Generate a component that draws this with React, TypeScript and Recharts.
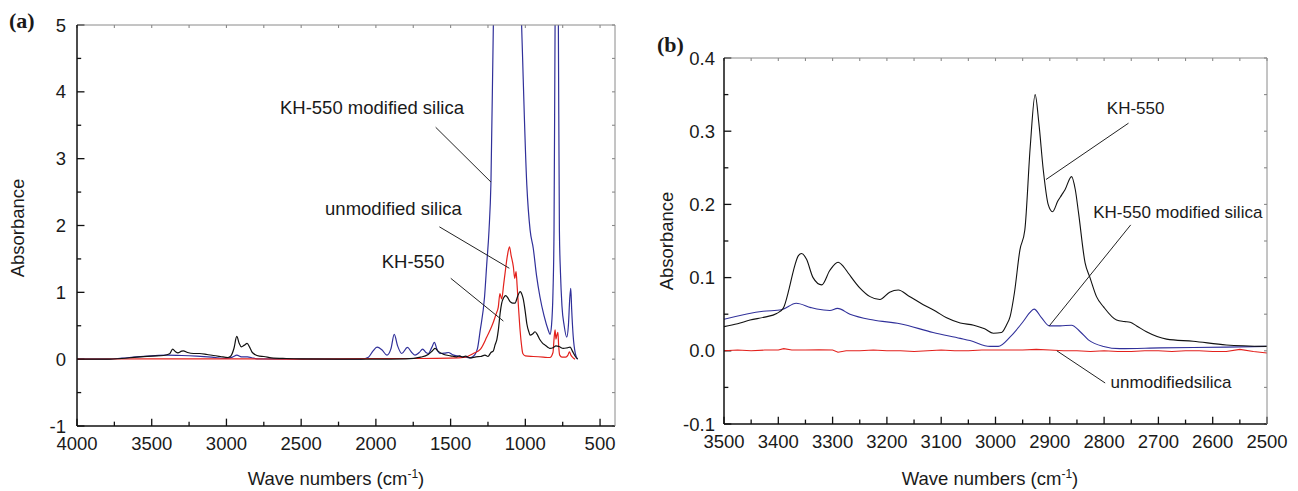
import { LineChart, Line, XAxis, YAxis, ReferenceLine, ReferenceDot } from "recharts"

// ─── Style constants ──────────────────────────────────────────────────────────

const FONT = "Arial, 'Liberation Sans', Helvetica, sans-serif"
const SERIF = "'Liberation Serif', 'Times New Roman', serif"
const INK = "#1a1a1a"
const BLUE = "#30309a"
const RED = "#e3211c"
const BLACK = "#111111"
const FRAME = "#8a8a8a"

// ─── Data: panel (a), full spectra ────────────────────────────────────────────

const A_KH550_WN = [4000, 3800, 3700, 3600, 3500, 3420, 3380, 3360, 3340, 3325, 3300, 3289, 3260, 3220, 3180, 3130, 3088, 3040, 2990, 2970, 2950, 2931, 2915, 2900, 2880, 2862, 2845, 2830, 2810, 2780, 2750, 2700, 2600, 2500, 2000, 1800, 1700, 1650, 1620, 1604, 1585, 1545, 1500, 1460, 1440, 1420, 1400, 1370, 1330, 1300, 1270, 1250, 1230, 1215, 1203, 1190, 1181, 1168, 1158, 1145, 1131, 1118, 1102, 1085, 1069, 1050, 1035, 1020, 1013, 1000, 990, 975, 968, 950, 935, 918, 902, 885, 868, 850, 835, 815, 795, 775, 746, 720, 700, 685, 665, 650]
const A_KH550_ABS = [0, 0, 0.01, 0.03, 0.045, 0.055, 0.08, 0.15, 0.11, 0.095, 0.12, 0.125, 0.1, 0.085, 0.085, 0.07, 0.055, 0.04, 0.025, 0.05, 0.16, 0.34, 0.24, 0.185, 0.21, 0.235, 0.18, 0.11, 0.07, 0.045, 0.04, 0.02, 0.01, 0.005, 0, 0.005, 0.03, 0.07, 0.13, 0.16, 0.12, 0.07, 0.05, 0.035, 0.05, 0.03, 0.045, 0.02, 0.035, 0.04, 0.06, 0.04, 0.1, 0.12, 0.21, 0.3, 0.43, 0.7, 0.84, 0.92, 0.95, 0.92, 0.86, 0.84, 0.84, 0.95, 1.01, 0.95, 0.89, 0.7, 0.53, 0.4, 0.36, 0.38, 0.41, 0.36, 0.29, 0.24, 0.21, 0.18, 0.16, 0.17, 0.2, 0.19, 0.16, 0.17, 0.18, 0.12, 0.04, 0]

const A_UNMOD_WN = [4000, 3500, 3000, 2500, 2000, 1700, 1500, 1400, 1348, 1300, 1258, 1235, 1218, 1195, 1181, 1170, 1158, 1145, 1136, 1120, 1106, 1095, 1080, 1071, 1062, 1055, 1045, 1035, 1025, 1017, 1000, 947, 880, 835, 815, 808, 801, 795, 790, 782, 777, 770, 755, 730, 715, 705, 695, 680, 667]
const A_UNMOD_ABS = [0, 0.005, 0.005, 0, 0.01, 0.01, 0.015, 0.03, 0.085, 0.15, 0.33, 0.44, 0.53, 0.68, 0.78, 0.98, 0.9, 1.12, 1.28, 1.55, 1.68, 1.55, 1.38, 1.21, 1.31, 1.1, 0.75, 0.43, 0.2, 0.085, 0.05, 0.04, 0.03, 0.025, 0.1, 0.3, 0.44, 0.3, 0.35, 0.4, 0.2, 0.06, 0.03, 0.03, 0.06, 0.11, 0.06, 0.02, 0]

const A_MOD_WN = [4000, 3800, 3700, 3600, 3500, 3400, 3300, 3200, 3100, 3000, 2960, 2930, 2900, 2860, 2820, 2780, 2500, 2100, 2050, 2020, 1992, 1960, 1926, 1900, 1877, 1855, 1827, 1789, 1760, 1738, 1710, 1687, 1665, 1649, 1625, 1609, 1590, 1571, 1540, 1515, 1490, 1450, 1415, 1370, 1340, 1320, 1302, 1273, 1258, 1243, 1230, 1214, 1190, 1150, 1100, 1060, 1025, 990, 968, 947, 925, 902, 875, 846, 835, 825, 815, 808, 801, 790, 779, 772, 765, 755, 740, 723, 712, 703, 696, 690, 680, 665, 650]
const A_MOD_ABS = [0, 0, 0.015, 0.035, 0.05, 0.06, 0.055, 0.045, 0.03, 0.01, 0.03, 0.06, 0.035, 0.035, 0.015, 0.005, 0, 0, 0.03, 0.12, 0.18, 0.14, 0.06, 0.15, 0.37, 0.2, 0.085, 0.175, 0.1, 0.06, 0.1, 0.15, 0.1, 0.085, 0.18, 0.25, 0.14, 0.085, 0.09, 0.1, 0.07, 0.045, 0.035, 0.02, 0.06, 0.16, 0.43, 0.93, 1.43, 1.93, 2.65, 5.0, 7, 8.5, 9, 7.5, 5.0, 2.6, 1.93, 1.66, 1.25, 0.93, 0.65, 0.43, 0.37, 0.5, 1.0, 1.93, 5.0, 8, 5, 1.93, 1.3, 0.8, 0.5, 0.33, 0.5, 0.9, 1.06, 0.75, 0.35, 0.08, 0]

// ─── Data: panel (b), 3500–2500 cm-1 region ───────────────────────────────────

const B_KH550_WN = [3500, 3475, 3452, 3425, 3403, 3391, 3380, 3372, 3363, 3357, 3348, 3336, 3320, 3305, 3290, 3280, 3271, 3250, 3231, 3213, 3195, 3179, 3160, 3133, 3110, 3090, 3065, 3040, 3020, 3004, 2989, 2980, 2973, 2965, 2955, 2946, 2936, 2927, 2920, 2912, 2903, 2895, 2885, 2878, 2872, 2860, 2853, 2847, 2835, 2826, 2814, 2801, 2777, 2763, 2752, 2740, 2722, 2685, 2636, 2575, 2500]
const B_KH550_ABS = [0.033, 0.037, 0.042, 0.046, 0.051, 0.058, 0.085, 0.11, 0.13, 0.133, 0.125, 0.1, 0.09, 0.11, 0.121, 0.115, 0.106, 0.086, 0.074, 0.07, 0.08, 0.083, 0.075, 0.063, 0.054, 0.045, 0.038, 0.035, 0.03, 0.024, 0.025, 0.035, 0.047, 0.08, 0.138, 0.165, 0.279, 0.35, 0.31, 0.247, 0.2, 0.19, 0.205, 0.213, 0.22, 0.238, 0.22, 0.188, 0.12, 0.1, 0.074, 0.06, 0.042, 0.04, 0.039, 0.034, 0.026, 0.016, 0.013, 0.008, 0.006]

const B_MOD_WN = [3500, 3428, 3394, 3367, 3340, 3329, 3305, 3291, 3268, 3225, 3176, 3115, 3065, 3047, 3010, 2995, 2973, 2949, 2937, 2929, 2915, 2901, 2881, 2860, 2844, 2829, 2801, 2771, 2697, 2575, 2500]
const B_MOD_ABS = [0.043, 0.054, 0.056, 0.065, 0.059, 0.057, 0.055, 0.058, 0.05, 0.042, 0.037, 0.025, 0.017, 0.014, 0.006, 0.006, 0.019, 0.04, 0.052, 0.057, 0.045, 0.034, 0.034, 0.035, 0.026, 0.015, 0.006, 0.003, 0.004, 0.005, 0.006]

const B_UNMOD_WN = [3500, 3475, 3450, 3425, 3400, 3390, 3375, 3350, 3325, 3300, 3290, 3275, 3250, 3225, 3200, 3175, 3150, 3125, 3100, 3075, 3050, 3025, 3000, 2975, 2950, 2925, 2900, 2875, 2850, 2825, 2800, 2775, 2750, 2725, 2700, 2675, 2650, 2625, 2600, 2575, 2550, 2525, 2500]
const B_UNMOD_ABS = [0, 0.001, 0, 0.001, 0.001, 0.003, 0.001, 0.001, 0.0015, 0.001, -0.002, 0, 0, 0.001, 0, 0, -0.001, 0, 0.001, 0, 0, 0.001, 0.001, 0.001, 0.001, 0.002, 0.001, 0, 0, -0.001, 0, -0.001, -0.001, 0, 0, -0.001, 0, 0, -0.001, -0.001, 0.002, -0.001, -0.003]

// ─── Tick labels ──────────────────────────────────────────────────────────────

const A_X_TICKS = [4000, 3750, 3500, 3250, 3000, 2750, 2500, 2250, 2000, 1750, 1500, 1250, 1000, 750, 500]
const A_Y_TICKS = [-1, -0.5, 0, 0.5, 1, 1.5, 2, 2.5, 3, 3.5, 4, 4.5, 5]
const B_X_TICKS = [3500, 3450, 3400, 3350, 3300, 3250, 3200, 3150, 3100, 3050, 3000, 2950, 2900, 2850, 2800, 2750, 2700, 2650, 2600, 2550, 2500]
const B_Y_TICKS = [-0.1, -0.05, 0, 0.05, 0.1, 0.15, 0.2, 0.25, 0.3, 0.35, 0.4]

const zip = (wn: number[], v: number[]) => wn.map((w, i) => ({ wn: w, v: v[i] }))

// ─── Tick labels (tick marks drawn separately, pointing inward) ───────────────

const tickText = { fontFamily: FONT, fontSize: 18.5, fill: INK }

const bottomLabel = (isMajor: (v: number) => boolean) => (p: any) =>
    isMajor(p.payload.value) ? (
        <text x={p.x} y={p.y + 24} textAnchor="middle" {...tickText}>{p.payload.value}</text>
    ) : <g />

const leftLabel = (isMajor: (v: number) => boolean, fmt: (v: number) => string, gap: number) => (p: any) =>
    isMajor(p.payload.value) ? (
        <text x={p.x - gap} y={p.y + 6.6} textAnchor="end" {...tickText}>{fmt(p.payload.value)}</text>
    ) : <g />

const isMajorA_x = (v: number) => v % 500 === 0
const isMajorA_y = (v: number) => Number.isInteger(v)
const isMajorB_x = (v: number) => v % 100 === 0
const isMajorB_y = (v: number) => Math.abs(v * 10 - Math.round(v * 10)) < 1e-6

// inward tick marks, lengths given in data units of the perpendicular axis
type TickSpec = {
    ticks: number[]
    isMajor: (v: number) => boolean
    lo: number
    hi: number
    major: number
    minor: number
    frame: number
}

const xTickMarks = (id: string, s: TickSpec) =>
    s.ticks.flatMap((v) => [
        <ReferenceLine key={`${id}b${v}`} segment={[{ x: v, y: s.lo }, { x: v, y: s.lo + (s.isMajor(v) ? s.major : s.minor) }]}
            stroke={BLACK} strokeWidth={1.3} ifOverflow="visible" />,
        <ReferenceLine key={`${id}t${v}`} segment={[{ x: v, y: s.hi }, { x: v, y: s.hi - s.frame }]}
            stroke={FRAME} strokeWidth={1.1} ifOverflow="visible" />,
    ])

const yTickMarks = (id: string, s: TickSpec) =>
    s.ticks.flatMap((v) => [
        <ReferenceLine key={`${id}l${v}`} segment={[{ x: s.lo, y: v }, { x: s.lo - (s.isMajor(v) ? s.major : s.minor), y: v }]}
            stroke={BLACK} strokeWidth={1.3} ifOverflow="visible" />,
        <ReferenceLine key={`${id}r${v}`} segment={[{ x: s.hi, y: v }, { x: s.hi + s.frame, y: v }]}
            stroke={FRAME} strokeWidth={1.1} ifOverflow="visible" />,
    ])

const label = (text: string, size: number) => (p: any) => (
    <text x={p.cx} y={p.cy} dy="0.35em" fontFamily={FONT} fontSize={size} fill={INK}>{text}</text>
)

const leader = { stroke: "#222", strokeWidth: 1, ifOverflow: "visible" as const }
const frameAxis = { tick: false, tickLine: false, axisLine: { stroke: FRAME, strokeWidth: 1 } }

// ─── Component ────────────────────────────────────────────────────────────────

export default function App() {
    return (
        <div style={{ position: "absolute", left: 0, top: 0, width: 1298, height: 491, background: "#fff" }}>
            <div style={{ position: "absolute", left: 0, top: 0 }}>
                <LineChart width={640} height={491} margin={{ top: 24, right: 20, left: 17, bottom: 35 }}>
                    <XAxis dataKey="wn" type="number" domain={[400, 4000]} reversed allowDataOverflow
                        ticks={A_X_TICKS} interval={0} height={30} tickSize={0} tickMargin={0} tickLine={false}
                        axisLine={{ stroke: BLACK, strokeWidth: 1.5 }} tick={bottomLabel(isMajorA_x)} />
                    <XAxis xAxisId="top" orientation="top" dataKey="wn" type="number" domain={[400, 4000]} reversed
                        allowDataOverflow ticks={A_X_TICKS} interval={0} height={1} {...frameAxis} />
                    <YAxis type="number" domain={[-1, 5]} allowDataOverflow ticks={A_Y_TICKS} interval={0}
                        width={60} tickSize={0} tickMargin={0} tickLine={false}
                        axisLine={{ stroke: BLACK, strokeWidth: 1.5 }}
                        tick={leftLabel(isMajorA_y, (v) => String(v), 11)} />
                    <YAxis yAxisId="right" orientation="right" type="number" domain={[-1, 5]} allowDataOverflow
                        ticks={A_Y_TICKS} interval={0} width={5} {...frameAxis} />
                    {xTickMarks("a", { ticks: A_X_TICKS, isMajor: isMajorA_x, lo: -1, hi: 5, major: 0.11, minor: 0.065, frame: 0.045 })}
                    {yTickMarks("a", { ticks: A_Y_TICKS, isMajor: isMajorA_y, lo: 4000, hi: 400, major: 50, minor: 28, frame: 20 })}
                    <Line data={zip(A_MOD_WN, A_MOD_ABS)} dataKey="v" type="monotone" stroke={BLUE} strokeWidth={1.2}
                        dot={false} isAnimationActive={false} />
                    <Line data={zip(A_UNMOD_WN, A_UNMOD_ABS)} dataKey="v" type="monotone" stroke={RED} strokeWidth={1.2}
                        dot={false} isAnimationActive={false} />
                    <Line data={zip(A_KH550_WN, A_KH550_ABS)} dataKey="v" type="monotone" stroke={BLACK} strokeWidth={1.2}
                        dot={false} isAnimationActive={false} />
                    <ReferenceLine segment={[{ x: 1600, y: 3.47 }, { x: 1230, y: 2.65 }]} {...leader} />
                    <ReferenceLine segment={[{ x: 1575, y: 1.98 }, { x: 1107, y: 1.36 }]} {...leader} />
                    <ReferenceLine segment={[{ x: 1499, y: 1.21 }, { x: 1147, y: 0.57 }]} {...leader} />
                    <ReferenceDot x={2642} y={3.76} r={0} shape={label("KH-550 modified silica", 18.5)} />
                    <ReferenceDot x={2340} y={2.26} r={0} shape={label("unmodified silica", 18.5)} />
                    <ReferenceDot x={1961} y={1.46} r={0} shape={label("KH-550", 18.5)} />
                </LineChart>
            </div>
            <div style={{ position: "absolute", left: 640, top: 0 }}>
                <LineChart width={658} height={491} margin={{ top: 57, right: 26, left: 24, bottom: 37 }}>
                    <XAxis dataKey="wn" type="number" domain={[2500, 3500]} reversed allowDataOverflow
                        ticks={B_X_TICKS} interval={0} height={30} tickSize={0} tickMargin={0} tickLine={false}
                        axisLine={{ stroke: BLACK, strokeWidth: 1.5 }} tick={bottomLabel(isMajorB_x)} />
                    <XAxis xAxisId="top" orientation="top" dataKey="wn" type="number" domain={[2500, 3500]} reversed
                        allowDataOverflow ticks={B_X_TICKS} interval={0} height={1} {...frameAxis} />
                    <YAxis type="number" domain={[-0.1, 0.4]} allowDataOverflow ticks={B_Y_TICKS} interval={0}
                        width={60} tickSize={0} tickMargin={0} tickLine={false}
                        axisLine={{ stroke: BLACK, strokeWidth: 1.5 }}
                        tick={leftLabel(isMajorB_y, (v) => v.toFixed(1), 9)} />
                    <YAxis yAxisId="right" orientation="right" type="number" domain={[-0.1, 0.4]} allowDataOverflow
                        ticks={B_Y_TICKS} interval={0} width={5} {...frameAxis} />
                    {xTickMarks("b", { ticks: B_X_TICKS, isMajor: isMajorB_x, lo: -0.1, hi: 0.4, major: 0.01, minor: 0.006, frame: 0.0042 })}
                    {yTickMarks("b", { ticks: B_Y_TICKS, isMajor: isMajorB_y, lo: 3500, hi: 2500, major: 13.5, minor: 8, frame: 5.5 })}
                    <Line data={zip(B_UNMOD_WN, B_UNMOD_ABS)} dataKey="v" type="linear" stroke={RED} strokeWidth={1.1}
                        dot={false} isAnimationActive={false} />
                    <Line data={zip(B_MOD_WN, B_MOD_ABS)} dataKey="v" type="monotone" stroke={BLUE} strokeWidth={1.1}
                        dot={false} isAnimationActive={false} />
                    <Line data={zip(B_KH550_WN, B_KH550_ABS)} dataKey="v" type="monotone" stroke={BLACK} strokeWidth={1.1}
                        dot={false} isAnimationActive={false} />
                    <ReferenceLine segment={[{ x: 2755, y: 0.311 }, { x: 2907, y: 0.234 }]} {...leader} />
                    <ReferenceLine segment={[{ x: 2751, y: 0.172 }, { x: 2901, y: 0.034 }]} {...leader} />
                    <ReferenceLine segment={[{ x: 2887, y: 0 }, { x: 2798, y: -0.044 }]} {...leader} />
                    <ReferenceDot x={2795} y={0.332} r={0} shape={label("KH-550", 17)} />
                    <ReferenceDot x={2820} y={0.189} r={0} shape={label("KH-550 modified silica", 17)} />
                    <ReferenceDot x={2788} y={-0.043} r={0} shape={label("unmodifiedsilica", 17)} />
                </LineChart>
            </div>
            <svg width={1298} height={491} style={{ position: "absolute", left: 0, top: 0, pointerEvents: "none" }}>
                <text x={9} y={28} fontFamily={SERIF} fontWeight="bold" fontSize={22} fill={INK}>(a)</text>
                <text x={657} y={52} fontFamily={SERIF} fontWeight="bold" fontSize={22} fill={INK}>(b)</text>
                <text transform="translate(24 228) rotate(-90)" textAnchor="middle" fontFamily={FONT} fontSize={18.5} fill={INK}>Absorbance</text>
                <text transform="translate(673 241) rotate(-90)" textAnchor="middle" fontFamily={FONT} fontSize={18.5} fill={INK}>Absorbance</text>
                <text x={336} y={485} textAnchor="middle" fontFamily={FONT} fontSize={18.5} fill={INK}>
                    Wave numbers (cm<tspan dy={-7} fontSize={12}>-1</tspan><tspan dy={7}>)</tspan>
                </text>
                <text x={990} y={485} textAnchor="middle" fontFamily={FONT} fontSize={18.5} fill={INK}>
                    Wave numbers (cm<tspan dy={-7} fontSize={12}>-1</tspan><tspan dy={7}>)</tspan>
                </text>
            </svg>
        </div>
    )
}
